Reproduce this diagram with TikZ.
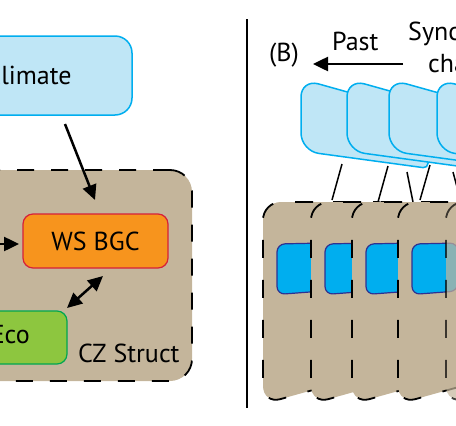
\documentclass[tikz,border=0pt]{standalone}
\usepackage{fontspec}
\setmainfont{PT Sans}
\usetikzlibrary{arrows.meta}
\definecolor{tanc}{HTML}{C4B59B}
\definecolor{lblue}{HTML}{BFE6F6}
\definecolor{cyanb}{HTML}{00AEEF}
\definecolor{orng}{HTML}{F7941D}
\definecolor{redb}{HTML}{D6203A}
\definecolor{grn}{HTML}{8DC63F}
\definecolor{grnb}{HTML}{00A651}
\definecolor{dblue}{HTML}{2E3192}
\tikzset{
  lbl/.style={inner sep=0pt, font=\fontsize{26}{30}\selectfont},
  arr/.style={line width=2.5pt, -{Triangle[length=15pt,width=14pt]}},
  darr/.style={line width=2.5pt, {Triangle[length=15pt,width=14pt]}-{Triangle[length=15pt,width=14pt]}},
  thinln/.style={line width=1.5pt},
  czbox/.style={fill=tanc, draw=black, line width=1.8pt, dash pattern=on 17pt off 17pt, rounded corners=22pt, inner sep=0pt},
  panel/.style={fill=tanc, draw=black, line width=1.8pt, dash pattern=on 18pt off 22pt},
  inrect/.style={fill=cyanb, draw=dblue, line width=1.2pt, rounded corners=8pt},
  card/.style={fill=lblue, draw=cyanb, line width=1.5pt},
}
\begin{document}
\begin{tikzpicture}[x=1pt, y=-1pt]
\useasboundingbox (0,0) rectangle (456,426);
\clip (0,0) rectangle (456,426);

% ---------- left panel ----------
\node[lbl, fill=lblue, draw=cyanb, line width=1.5pt, rounded corners=17pt,
      minimum width=206pt, minimum height=79pt] (climate) at (29,75.5) {Climate};

\node[czbox, minimum width=292pt, minimum height=211pt] (cz) at (46,275.5) {};
\node[lbl, anchor=base west] (cztext) at (78,362) {CZ Struct};

\node[lbl, fill=orng, draw=redb, line width=1.2pt, rounded corners=10pt,
      minimum width=145pt, minimum height=54pt] (wsbgc) at (95.5,241) {WS BGC};

\node[fill=grn, draw=grnb, line width=1.2pt, rounded corners=10pt, inner sep=0pt,
      minimum width=116pt, minimum height=53pt] (eco) at (9,337.5) {};
\node[lbl, anchor=base east] (ecotext) at (30,343) {Eco};

\coordinate (climA) at (65,124);
\coordinate (climB) at (95,200);
\draw[arr] (climA) -- (climB);

\coordinate (leftin) at (-5,244);
\coordinate (leftend) at (19,244);
\draw[arr] (leftin) -- (leftend);

\coordinate (dA) at (103,276);
\coordinate (dB) at (67,308);
\draw[darr] (dA) -- (dB);

\coordinate (sepT) at (247,19);
\coordinate (sepB) at (247,408);
\draw[thinln] (sepT) -- (sepB);

% ---------- right panel ----------
\node[lbl, anchor=base west] (blabel) at (269,61) {(B)};
\node[lbl, anchor=base west] (past) at (332,50) {Past};
\node[lbl, anchor=base west] (sync) at (408,40) {Sync};
\node[lbl, anchor=base west] (cha) at (428,72) {cha};
\coordinate (pastS) at (403,64);
\coordinate (pastE) at (313,64);
\draw[arr] (pastS) -- (pastE);

% cards
\foreach \x in {301,347,389,437}{
  \path[card] ({\x+60},{79+0.28*60}) [rounded corners=18pt] -- (\x,79) -- (\x,151)
     -- ({\x+60},{151+0.136*60}) [rounded corners=5pt] -- ({\x+127},{151+0.136*127})
     -- ({\x+127},{79+0.28*127}) -- cycle;
}

% connectors between cards and panels
\coordinate (l1a) at (342,164); \coordinate (l1b) at (332,200);
\coordinate (l2a) at (388,166); \coordinate (l2b) at (378,202);
\coordinate (l3a) at (407,172); \coordinate (l3b) at (413,202);
\coordinate (l4a) at (430,165); \coordinate (l4b) at (420,200);
\coordinate (l5a) at (453,172); \coordinate (l5b) at (461,202);
\draw[thinln] (l1a) -- (l1b);
\draw[thinln] (l2a) -- (l2b);
\draw[thinln] (l3a) -- (l3b);
\draw[thinln] (l4a) -- (l4b);
\draw[thinln] (l5a) -- (l5b);

% panels
\foreach \x in {263,311,352,398}{
  \path[panel] ({\x+60},202) [rounded corners=18pt] -- (\x,202) -- (\x,404)
     -- ({\x+60},{404-0.28*60}) [rounded corners=10pt] -- ({\x+125},{404-0.28*125})
     -- ({\x+125},202) -- cycle;
  \path[inrect] ({\x+14},270) -- ({\x+14},244) -- ({\x+60},243) -- ({\x+60},291)
     -- ({\x+14},294.5) -- cycle;
}
\path[panel, opacity=0.7] ({446+60},202) [rounded corners=18pt] -- (446,202) -- (446,404)
     -- ({446+60},{404-0.28*60}) [rounded corners=10pt] -- ({446+125},{404-0.28*125})
     -- ({446+125},202) -- cycle;
\end{tikzpicture}
\end{document}
